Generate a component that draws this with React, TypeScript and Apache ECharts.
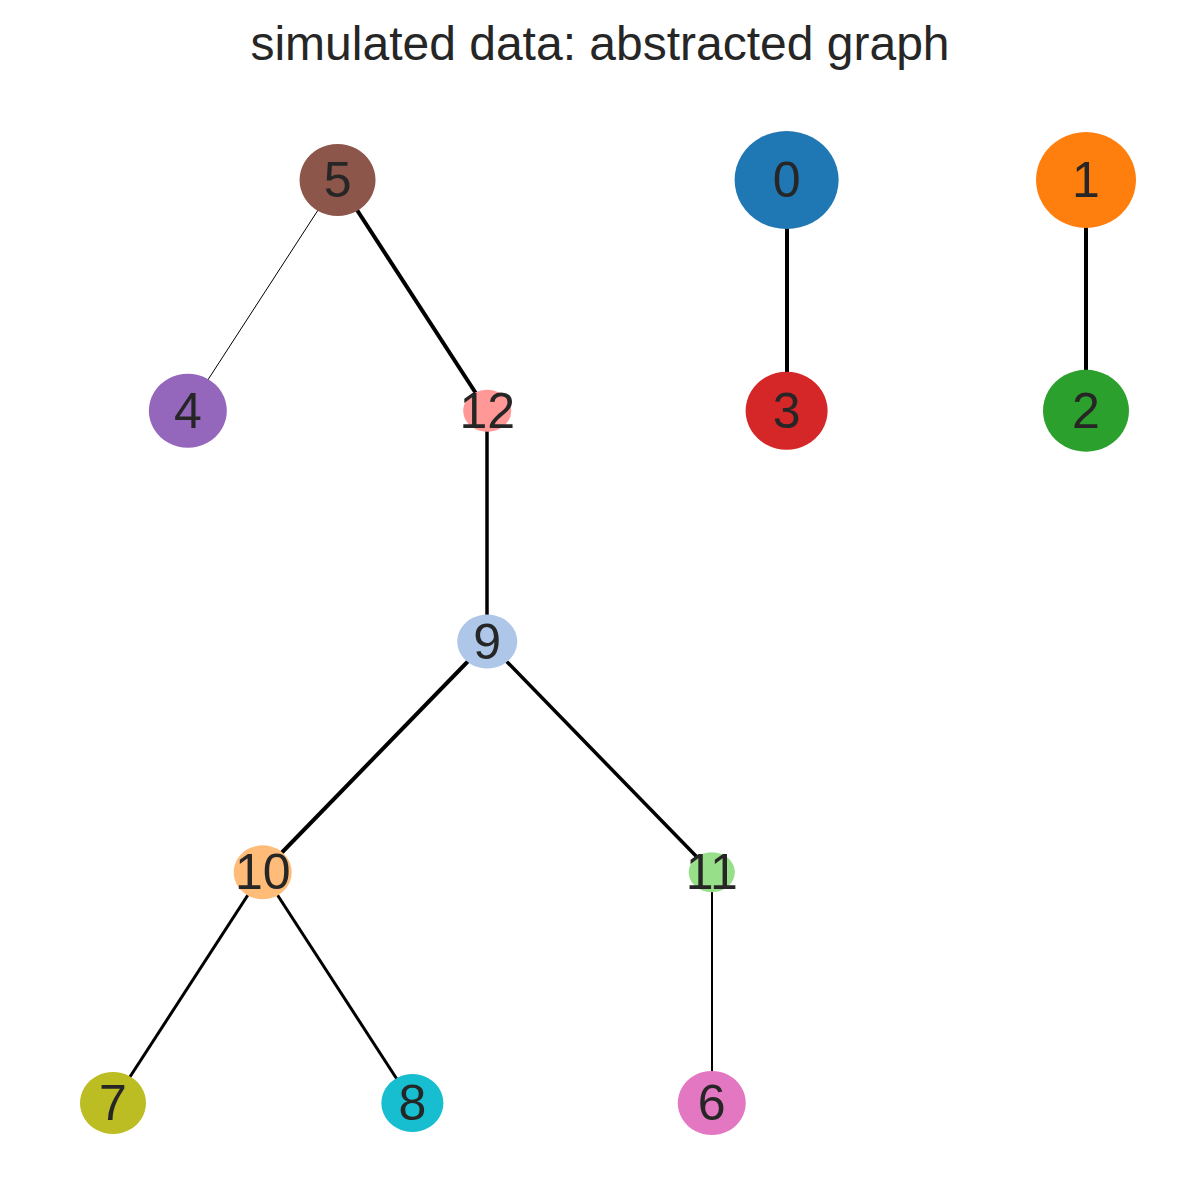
import { useEffect, useRef } from 'react'
import * as echarts from 'echarts'

const nodeNames = ['0', '1', '2', '3', '4', '5', '6', '7', '8', '9', '10', '11', '12']
const nodeX = [9, 13, 13, 9, 1, 3, 8, 0, 4, 5, 2, 8, 5]
const nodeY = [0, 0, 1, 1, 1, 0, 4, 4, 4, 2, 3, 3, 1]
const nodeW = [104, 100, 86, 82, 78, 76, 68, 66, 62, 60, 58, 46, 48]
const nodeH = [98, 96, 82, 78, 74, 72, 64, 62, 58, 54, 54, 40, 42]
const nodeColors = ['#1f77b4', '#ff7f0e', '#2ca02c', '#d62728', '#9467bd', '#8c564b', '#e377c2', '#bcbd22', '#17becf', '#aec7e8', '#ffbb78', '#98df8a', '#ff9896']

const edgeSource = ['5', '5', '0', '1', '12', '9', '9', '10', '10', '11']
const edgeTarget = ['4', '12', '3', '2', '9', '10', '11', '7', '8', '6']
const edgeWidth = [1, 4, 4, 4, 3.5, 4, 3.5, 3, 3, 2]

export default function App() {
  const chartRef = useRef<HTMLDivElement>(null)

  useEffect(() => {
    if (!chartRef.current) return
    const chart = echarts.init(chartRef.current, null, { renderer: 'svg' })

    const option = {
      animation: false,
      backgroundColor: '#ffffff',
      title: {
        text: 'simulated data: abstracted graph',
        left: 'center',
        top: 14,
        textStyle: { fontFamily: 'Liberation Sans', fontSize: 48, fontWeight: 'normal', color: '#262626' }
      },
      grid: { left: 113, right: 114, top: 180, bottom: 97 },
      xAxis: { type: 'value', min: 0, max: 13, show: false },
      yAxis: { type: 'value', min: 0, max: 4, inverse: true, show: false },
      series: [
        {
          type: 'graph',
          coordinateSystem: 'cartesian2d',
          symbol: 'circle',
          data: nodeNames.map((name, i) => ({
            name,
            value: [nodeX[i], nodeY[i]],
            symbolSize: [nodeW[i], nodeH[i]],
            itemStyle: { color: nodeColors[i] }
          })),
          links: edgeSource.map((s, i) => ({
            source: s,
            target: edgeTarget[i],
            lineStyle: { width: edgeWidth[i] }
          })),
          lineStyle: { color: '#000000', opacity: 1, curveness: 0 },
          label: {
            show: true,
            position: 'inside',
            formatter: '{b}',
            fontFamily: 'Liberation Sans',
            fontSize: 50,
            color: '#262626'
          }
        }
      ]
    }

    chart.setOption(option)
    return () => chart.dispose()
  }, [])

  return <div ref={chartRef} style={{ position: 'absolute', left: 0, top: 0, width: 1200, height: 1200 }} />
}
